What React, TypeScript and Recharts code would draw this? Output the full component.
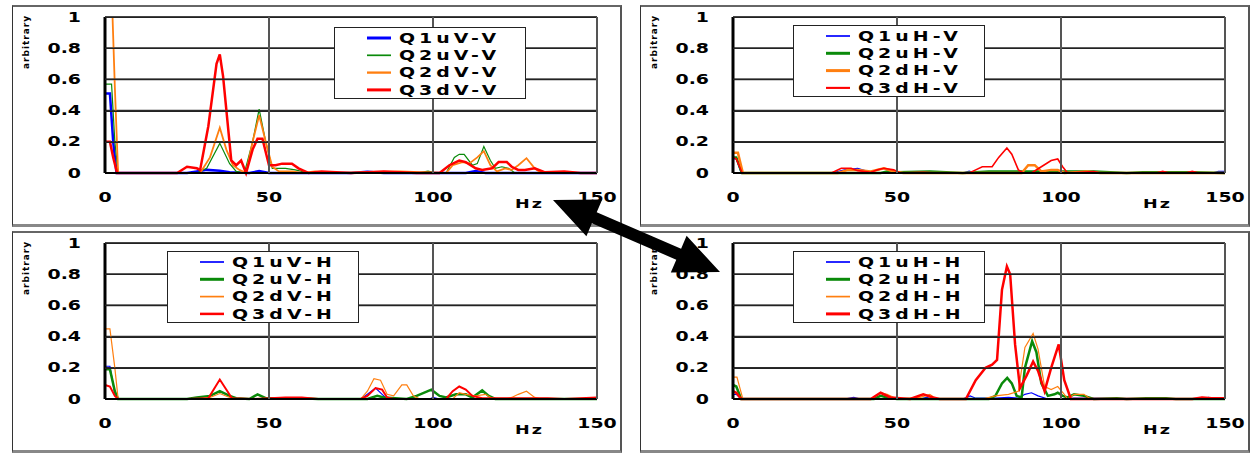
import React from "react";
import { LineChart, Line, XAxis, YAxis, CartesianGrid } from "recharts";

type Pt = [number, number];

const xTicks = [0, 50, 100, 150];
const yTicks = [0, 0.2, 0.4, 0.6, 0.8, 1];
const yTickLabels = ["0", "0.2", "0.4", "0.6", "0.8", "1"];
const xLabel = "Hz";
const yLabel = "arbitrary";

// --- V-V (top left); Q2dV-V runs off the top of the scale near 0 Hz
const q1uV_V: Pt[] = [[0, 0.51], [1.5, 0.51], [2.5, 0.2], [3.5, 0], [25, 0], [28, 0.01], [31, 0.02], [35, 0.015], [38, 0.005], [44, 0], [47, 0.012], [50, 0], [75, 0], [80, 0.008], [85, 0], [110, 0], [113, 0.012], [116, 0], [150, 0]];
const q2uV_V: Pt[] = [[0, 0.57], [2, 0.57], [3, 0.2], [4, 0], [28, 0], [31, 0.03], [35, 0.19], [38, 0.06], [40, 0.01], [42.5, 0], [45, 0.2], [47, 0.41], [49, 0.2], [51, 0.03], [55, 0.03], [58, 0.02], [62, 0], [95, 0], [98.5, 0.012], [101, 0], [104, 0], [106.5, 0.1], [108, 0.12], [109.5, 0.12], [112, 0.05], [113.5, 0.06], [115.5, 0.17], [117.5, 0.08], [119, 0.03], [121, 0.04], [123, 0.03], [125, 0], [150, 0]];
const q2dV_V: Pt[] = [[2.3, 1], [3, 0.55], [4, 0], [29, 0], [32, 0.1], [35, 0.29], [37, 0.15], [39, 0.05], [41, 0.02], [43, 0], [45, 0.2], [47, 0.37], [49, 0.2], [51, 0.04], [53, 0.01], [57, 0.01], [60, 0], [64, 0.01], [70, 0], [80, 0.005], [90, 0.01], [96, 0.005], [104, 0], [106, 0.05], [109, 0.07], [111, 0.06], [113.5, 0.1], [115.5, 0.14], [117.5, 0.05], [119.5, 0.01], [122, 0.03], [124, 0.02], [126, 0.05], [128.5, 0.095], [131, 0.03], [133, 0], [150, 0]];
const q3dV_V: Pt[] = [[0, 0.2], [1.5, 0.2], [2.5, 0.1], [3.7, 0], [22, 0], [25, 0.04], [28, 0.03], [29, 0.02], [31.5, 0.3], [34, 0.7], [35, 0.76], [36, 0.62], [38.5, 0.08], [40, 0.05], [41.5, 0.08], [43, 0], [45, 0.15], [46.5, 0.22], [48, 0.22], [50, 0.05], [52, 0.05], [54, 0.06], [57, 0.06], [59, 0.03], [62, 0], [66, 0.01], [75, 0], [85, 0.01], [95, 0], [102, 0], [105, 0.05], [108, 0.08], [110, 0.07], [113, 0.03], [115, 0.02], [118, 0.03], [120, 0.07], [122.5, 0.07], [124, 0.04], [126, 0.02], [128, 0.02], [131, 0.03], [134, 0.005], [140, 0.01], [145, 0], [150, 0]];

// --- H-V (top right)
const q1uH_V: Pt[] = [[0, 0.09], [1, 0.09], [2.5, 0], [30, 0], [34, 0.02], [38, 0.03], [41, 0.01], [44, 0], [70, 0], [72, 0.012], [74, 0], [146, 0], [148, 0.01], [150, 0.01]];
const q2uH_V: Pt[] = [[0, 0.1], [1, 0.1], [2.7, 0], [45, 0], [47, 0.01], [50, 0.005], [60, 0.01], [70, 0], [78, 0.01], [88, 0.01], [98, 0.01], [110, 0.01], [120, 0], [125, 0.005], [140, 0.005], [150, 0]];
const q2dH_V: Pt[] = [[0, 0.13], [1.5, 0.13], [3, 0], [32, 0], [35, 0.02], [38, 0.02], [42, 0.01], [46, 0.03], [49, 0.01], [52, 0], [88, 0], [90, 0.05], [92, 0.05], [94, 0.01], [97, 0.02], [99, 0.02], [101, 0], [108, 0.01], [112, 0], [150, 0]];
const q3dH_V: Pt[] = [[0, 0.1], [1, 0.09], [2.8, 0], [30, 0], [33, 0.03], [36, 0.03], [38, 0.015], [42, 0.005], [44, 0.02], [46, 0.03], [49, 0.02], [51, 0], [58, 0.005], [62, 0], [72, 0], [74, 0.02], [76, 0.04], [79, 0.04], [81, 0.1], [83.5, 0.16], [85, 0.12], [87, 0.02], [88.5, 0], [91, 0], [94, 0.04], [97, 0.08], [99, 0.09], [100.5, 0.04], [102, 0], [110, 0.01], [112, 0], [129, 0], [131, 0.01], [133, 0], [138, 0], [140, 0.01], [142, 0], [150, 0]];

// --- V-H (bottom left)
const q1uV_H: Pt[] = [[0, 0.21], [1.5, 0.21], [3, 0.03], [4, 0], [78, 0], [80, 0.03], [82.5, 0.07], [84.5, 0.03], [86, 0], [99, 0], [100, 0.01], [102, 0], [150, 0]];
const q2uV_H: Pt[] = [[0, 0.19], [1.5, 0.19], [3, 0.05], [4, 0], [25, 0], [28, 0.01], [32, 0.02], [35, 0.05], [38, 0.02], [40, 0.005], [44, 0], [46.5, 0.03], [49, 0.005], [55, 0.005], [60, 0.005], [65, 0], [80, 0], [83, 0.02], [85, 0.01], [92, 0], [95, 0.02], [99.5, 0.06], [102, 0.02], [104, 0.01], [107, 0.03], [110, 0.03], [112, 0.01], [115, 0.055], [117, 0.02], [119, 0], [150, 0]];
const q2dV_H: Pt[] = [[0, 0.45], [1.5, 0.45], [3, 0.2], [4, 0], [28, 0], [32, 0.01], [35, 0.035], [38, 0.01], [40, 0], [78, 0], [80, 0.05], [82, 0.13], [84, 0.12], [86, 0.03], [88, 0.02], [90.5, 0.09], [92, 0.09], [94, 0.02], [96, 0], [106, 0], [108, 0.04], [110, 0.03], [113, 0.02], [116, 0.03], [118, 0.005], [122, 0], [124, 0.01], [126, 0.03], [128.5, 0.05], [131, 0.01], [133, 0], [150, 0]];
const q3dV_H: Pt[] = [[0, 0.09], [1.5, 0.08], [3, 0.02], [4, 0], [25, 0], [31.5, 0.005], [35, 0.125], [38.7, 0.005], [45, 0], [55, 0.01], [60, 0.01], [65, 0], [78, 0], [80, 0.02], [82.5, 0.07], [84.5, 0.06], [86, 0.01], [88, 0], [104, 0], [106, 0.05], [108, 0.08], [110, 0.06], [112, 0.02], [115, 0.005], [135, 0.005], [140, 0], [145, 0.005], [150, 0.01]];

// --- H-H (bottom right)
const q1uH_H: Pt[] = [[0, 0.03], [1, 0.03], [2.5, 0], [34, 0], [36.8, 0.01], [39, 0], [57, 0], [59, 0.01], [61, 0], [70, 0], [72.3, 0.02], [74, 0.005], [80, 0.005], [84, 0.01], [87, 0.005], [89, 0.03], [91, 0.04], [93, 0.02], [96, 0], [100, 0], [104, 0.005], [143, 0], [145, 0.01], [147, 0], [150, 0]];
const q2uH_H: Pt[] = [[0, 0.09], [1, 0.08], [2.5, 0], [43, 0], [45, 0.02], [47, 0.01], [50, 0], [78, 0], [80, 0.02], [82, 0.1], [83.6, 0.135], [85, 0.1], [86.5, 0.02], [88, 0.01], [89, 0.2], [91.2, 0.37], [92.5, 0.3], [94, 0.1], [96, 0.02], [98, 0.03], [99, 0.04], [100.5, 0.02], [102, 0.01], [104, 0.03], [107, 0.02], [110, 0], [117, 0.005], [120, 0], [126, 0.005], [132, 0.005], [135, 0], [150, 0]];
const q2dH_H: Pt[] = [[0, 0.14], [1.2, 0.14], [3, 0], [42, 0], [45, 0.04], [47, 0.03], [50, 0], [57, 0.01], [60, 0.03], [62, 0], [76, 0], [80, 0.02], [84, 0.03], [87, 0.05], [89, 0.33], [91.5, 0.42], [93, 0.32], [95, 0.08], [97, 0.06], [99, 0.08], [101, 0.03], [102, 0], [104, 0.03], [107, 0.03], [109, 0], [150, 0]];
const q3dH_H: Pt[] = [[0, 0.05], [1, 0.04], [2.5, 0], [42, 0], [45, 0.04], [48, 0.01], [54, 0], [58, 0.03], [61, 0.01], [63, 0], [71, 0], [74, 0.12], [77, 0.2], [79, 0.22], [80.5, 0.25], [82, 0.7], [83.5, 0.85], [84.5, 0.8], [86, 0.35], [87.5, 0.07], [89.5, 0.15], [91.5, 0.24], [93, 0.18], [95, 0.05], [97, 0.2], [99.3, 0.35], [101, 0.12], [103, 0], [140, 0], [143, 0.01], [146, 0.005], [150, 0.005]];

const BLUE = "#0000ff";
const GREEN = "#0a8a0a";
const ORANGE = "#ff7f10";
const RED = "#ff0000";
const THICK = 2.5;
const THIN = 1.2;

type Series = { name: string; pts: Pt[]; color: string; width: number };

const panels: { left: number; top: number; legendLeft: number; legendTop: number; series: Series[] }[] = [
  {
    left: 12, top: 5, legendLeft: 321, legendTop: 20,
    series: [
      { name: "Q1uV-V", pts: q1uV_V, color: BLUE, width: THICK },
      { name: "Q2uV-V", pts: q2uV_V, color: GREEN, width: THIN },
      { name: "Q2dV-V", pts: q2dV_V, color: ORANGE, width: 1.8 },
      { name: "Q3dV-V", pts: q3dV_V, color: RED, width: THICK },
    ],
  },
  {
    left: 640, top: 5, legendLeft: 152, legendTop: 18,
    series: [
      { name: "Q1uH-V", pts: q1uH_V, color: BLUE, width: THIN },
      { name: "Q2uH-V", pts: q2uH_V, color: GREEN, width: THICK },
      { name: "Q2dH-V", pts: q2dH_V, color: ORANGE, width: THICK },
      { name: "Q3dH-V", pts: q3dH_V, color: RED, width: 1.6 },
    ],
  },
  {
    left: 12, top: 231, legendLeft: 154, legendTop: 18,
    series: [
      { name: "Q1uV-H", pts: q1uV_H, color: BLUE, width: THIN },
      { name: "Q2uV-H", pts: q2uV_H, color: GREEN, width: THICK },
      { name: "Q2dV-H", pts: q2dV_H, color: ORANGE, width: THIN },
      { name: "Q3dV-H", pts: q3dV_H, color: RED, width: 2 },
    ],
  },
  {
    left: 640, top: 231, legendLeft: 152, legendTop: 18,
    series: [
      { name: "Q1uH-H", pts: q1uH_H, color: BLUE, width: THIN },
      { name: "Q2uH-H", pts: q2uH_H, color: GREEN, width: THICK },
      { name: "Q2dH-H", pts: q2dH_H, color: ORANGE, width: THIN },
      { name: "Q3dH-H", pts: q3dH_H, color: RED, width: THICK },
    ],
  },
];

const W = 610;
const H = 222;
const MARGIN = { top: 12, right: 25, bottom: 24, left: 0 };
const Y_AXIS_W = 93;
const X_AXIS_H = 30;
const PLOT_X = MARGIN.left + Y_AXIS_W;
const PLOT_Y = MARGIN.top;
const PLOT_W = W - MARGIN.left - MARGIN.right - Y_AXIS_W;
const PLOT_H = H - MARGIN.top - MARGIN.bottom - X_AXIS_H;
const X_MAX = xTicks[xTicks.length - 1];
const Y_MAX = yTicks[yTicks.length - 1];
const Y_TICK_GAP = 24;
const FONT = "'DejaVu Sans', 'Liberation Sans', sans-serif";
const STRETCH = 1.35; // the original labels are drawn with a wide face

const YTick = (props: any) => {
  const { x, y, payload } = props;
  const label = yTickLabels[yTicks.indexOf(payload.value)] ?? String(payload.value);
  return (
    <g transform={`translate(${x},${y}) scale(${STRETCH},1)`}>
      <text x={0} y={0} textAnchor="end" dominantBaseline="central" fontFamily={FONT} fontWeight={700} fontSize={14} fill="#000">
        {label}
      </text>
    </g>
  );
};

const XTick = (props: any) => {
  const { x, y, payload } = props;
  return (
    <g transform={`translate(${x},${y + 24}) scale(${STRETCH},1)`}>
      <text x={0} y={0} textAnchor="middle" dominantBaseline="central" fontFamily={FONT} fontWeight={700} fontSize={14} fill="#000">
        {String(payload.value)}
      </text>
    </g>
  );
};

function Legend({ series }: { series: Series[] }) {
  return (
    <svg width={192} height={72} style={{ display: "block" }}>
      <rect x={0.5} y={0.5} width={191} height={71} fill="#fff" stroke="#222" strokeWidth={1} />
      {series.map((s, i) => {
        const y = 11 + i * 17.3;
        return (
          <g key={s.name}>
            <line x1={33} x2={57} y1={y} y2={y} stroke={s.color} strokeWidth={s.width + 0.5} />
            <g transform={`translate(65,${y}) scale(${STRETCH},1)`}>
              <text x={0} y={0} dominantBaseline="central" fontFamily={FONT} fontWeight={700} fontSize={14} letterSpacing={3} fill="#000">
                {s.name}
              </text>
            </g>
          </g>
        );
      })}
    </svg>
  );
}

// grid bars (as filled rects) and axis titles, on the same plot box as the chart
function Overlay() {
  return (
    <svg width={W} height={H} style={{ position: "absolute", left: 0, top: 0, pointerEvents: "none" }}>
      {yTicks.slice(1).map((v) => {
        const y = Math.round(PLOT_Y + PLOT_H * (1 - v / Y_MAX));
        return <rect key={"h" + v} x={PLOT_X} y={y - 0.5} width={PLOT_W} height={1.5} fill="#222" />;
      })}
      {xTicks.slice(1).map((f) => {
        const x = Math.round(PLOT_X + (PLOT_W * f) / X_MAX);
        return <rect key={"v" + f} x={x - 1} y={PLOT_Y} width={2} height={PLOT_H} fill="#555" />;
      })}
      <g transform={`translate(${PLOT_X + 410},${PLOT_Y + PLOT_H + 35}) scale(${STRETCH},1)`}>
        <text x={0} y={0} fontFamily={FONT} fontWeight={700} fontSize={13} letterSpacing={1.5} fill="#000">
          {xLabel}
        </text>
      </g>
      <text
        transform={`translate(14,${PLOT_Y + 25}) rotate(-90)`}
        textAnchor="middle"
        dominantBaseline="central"
        fontFamily={FONT}
        fontWeight={700}
        fontSize={9}
        letterSpacing={1}
        fill="#000"
      >
        {yLabel}
      </text>
    </svg>
  );
}

function Panel({ left, top, legendLeft, legendTop, series }: (typeof panels)[number]) {
  return (
    <div
      style={{
        position: "absolute",
        left,
        top,
        width: W,
        height: H,
        boxSizing: "border-box",
        borderLeft: "1px solid #333",
        borderTop: "2px solid #666",
        borderRight: "2px solid #555",
        borderBottom: "3px solid #888",
      }}
    >
      <div style={{ position: "absolute", left: -1, top: -2, width: W, height: H }}>
        <LineChart width={W} height={H} margin={MARGIN}>
          <CartesianGrid stroke="#333" strokeWidth={1.5} />
          <XAxis
            type="number"
            dataKey="f"
            domain={[0, X_MAX]}
            ticks={xTicks}
            tickSize={0}
            tickMargin={0}
            height={X_AXIS_H}
            axisLine={{ stroke: "#000", strokeWidth: 2 }}
            tick={XTick}
          />
          <YAxis
            type="number"
            domain={[0, Y_MAX]}
            ticks={yTicks}
            width={Y_AXIS_W}
            tickSize={0}
            tickMargin={Y_TICK_GAP}
            axisLine={{ stroke: "#000", strokeWidth: 3 }}
            tick={YTick}
          />
          {series.map((s) => (
            <Line
              key={s.name}
              data={s.pts.map(([f, v]) => ({ f, v }))}
              dataKey="v"
              name={s.name}
              stroke={s.color}
              strokeWidth={s.width}
              dot={false}
              isAnimationActive={false}
            />
          ))}
        </LineChart>
        <Overlay />
      </div>
      <div style={{ position: "absolute", left: legendLeft, top: legendTop }}>
        <Legend series={series} />
      </div>
    </div>
  );
}

export default function App() {
  return (
    <div style={{ position: "absolute", left: 0, top: 0, width: 1260, height: 455, background: "#fff", overflow: "hidden" }}>
      {panels.map((p, i) => (
        <Panel key={i} {...p} />
      ))}
      <svg width={1260} height={455} style={{ position: "absolute", left: 0, top: 0, pointerEvents: "none" }}>
        <polygon
          points="553,200 602.2,199.4 596.7,212.3 681.1,248.7 686.6,235.8 720,272 670.8,272.6 676.3,259.7 591.9,223.3 586.4,236.2"
          fill="#000"
        />
      </svg>
    </div>
  );
}
